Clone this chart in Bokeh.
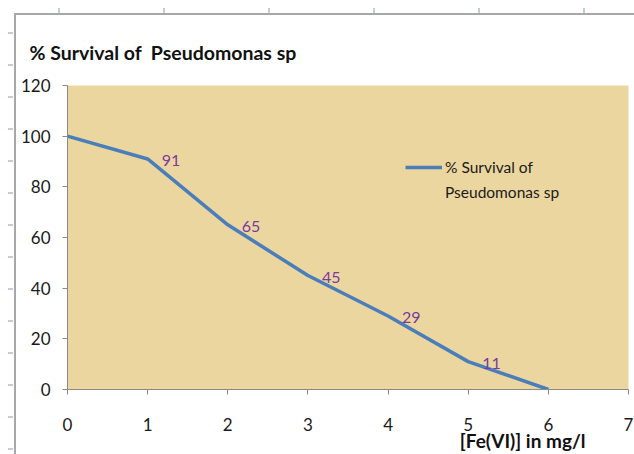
from bokeh.plotting import figure
from bokeh.models import ColumnDataSource, Range1d, FixedTicker, LabelSet, Legend, LegendItem, Title
from bokeh.core.properties import value
from bokeh.embed import file_html
from bokeh.resources import INLINE

# ---- data ----
fe_conc = [0, 1, 2, 3, 4, 5, 6]
survival = [100, 91, 65, 45, 29, 11, 0]
labelled_conc = [1, 2, 3, 4, 5]
labelled_surv = [91, 65, 45, 29, 11]
x_ticks = [0, 1, 2, 3, 4, 5, 6, 7]
y_ticks = [0, 20, 40, 60, 80, 100, 120]
legend_line1 = "% Survival of"
legend_line2 = "Pseudomonas sp"
chart_title = "% Survival of\u00a0 Pseudomonas sp"
x_title = "[Fe(VI)] in mg/l"

FONT = "Lato"

p = figure(width=634, height=454, output_backend="svg", toolbar_location=None,
           x_range=Range1d(0, 7), y_range=Range1d(0, 120),
           min_border_left=67, min_border_right=6, min_border_top=85, min_border_bottom=65)
p.background_fill_color = "#EBD6A0"
p.border_fill_alpha = 0
p.outline_line_color = None
p.grid.visible = False
# spreadsheet chart-area border (top and left grey lines) plus faint sheet gridline ticks
p.styles = {
    "background": ("linear-gradient(#A8A8A8, #A8A8A8) 15px 13px / 700px 2px no-repeat, "
                   "linear-gradient(#A8A8A8, #A8A8A8) 14px 13px / 2px 700px no-repeat, "
                   "repeating-linear-gradient(to bottom, transparent 0px, transparent 30.5px, "
                   "#C3CAD8 30.5px, #C3CAD8 32px) 8px 2px / 5px 460px no-repeat, "
                   "repeating-linear-gradient(to right, transparent 0px, transparent 103px, "
                   "#C3CAD8 103px, #C3CAD8 105px) -45px 8px / 700px 5px no-repeat, white")
}

# title
p.title.text = chart_title
p.title.text_font = FONT
p.title.text_font_size = "19.5px"
p.title.text_font_style = "bold"
p.title.text_color = "#111111"
p.title.align = "left"
p.title.offset = -38
p.title.standoff = 44

src = ColumnDataSource(dict(x=fe_conc, y=survival))
r = p.line("x", "y", source=src, line_color="#4A7EBB", line_width=3.5)
# invisible renderer for the second legend line (no glyph shown)
r_blank = p.line("x", "y", source=src, line_alpha=0)

lab_src = ColumnDataSource(dict(x=labelled_conc, y=labelled_surv, t=[str(v) for v in labelled_surv]))
p.add_layout(LabelSet(x="x", y="y", text="t", source=lab_src, x_offset=14, y_offset=-1.5,
                      text_font=value(FONT), text_font_size=value("16px"), text_color="#7A3A9E",
                      text_baseline="middle", text_align="left"))

for ax in (p.xaxis[0], p.yaxis[0]):
    ax.axis_line_color = "#8A8A8A"
    ax.major_tick_line_color = "#8A8A8A"
    ax.major_tick_in = 0
    ax.major_tick_out = 5
    ax.minor_tick_line_color = None
    ax.major_label_text_font = FONT
    ax.major_label_text_font_size = "17px"
    ax.major_label_text_color = "#1a1a1a"

p.xaxis[0].ticker = FixedTicker(ticks=x_ticks)
p.yaxis[0].ticker = FixedTicker(ticks=y_ticks)
p.xaxis[0].major_label_standoff = 23
p.yaxis[0].major_label_standoff = 12

xt = Title(text=x_title, align="right", offset=43, standoff=-14, text_font=FONT,
           text_font_size="19px", text_font_style="bold", text_color="#111111")
p.add_layout(xt, "below")

legend = Legend(items=[LegendItem(label=legend_line1, renderers=[r]),
                       LegendItem(label=legend_line2, renderers=[r_blank])],
                location=(338, 187))
legend.background_fill_alpha = 0
legend.border_line_color = None
legend.padding = 0
legend.margin = 0
legend.spacing = 5
legend.glyph_width = 37
legend.glyph_height = 20
legend.label_height = 20
legend.label_standoff = 3
legend.label_text_font = FONT
legend.label_text_font_size = "15.5px"
legend.label_text_color = "#1a1a1a"
p.add_layout(legend)

open("out.html", "w").write(file_html(p, INLINE))
